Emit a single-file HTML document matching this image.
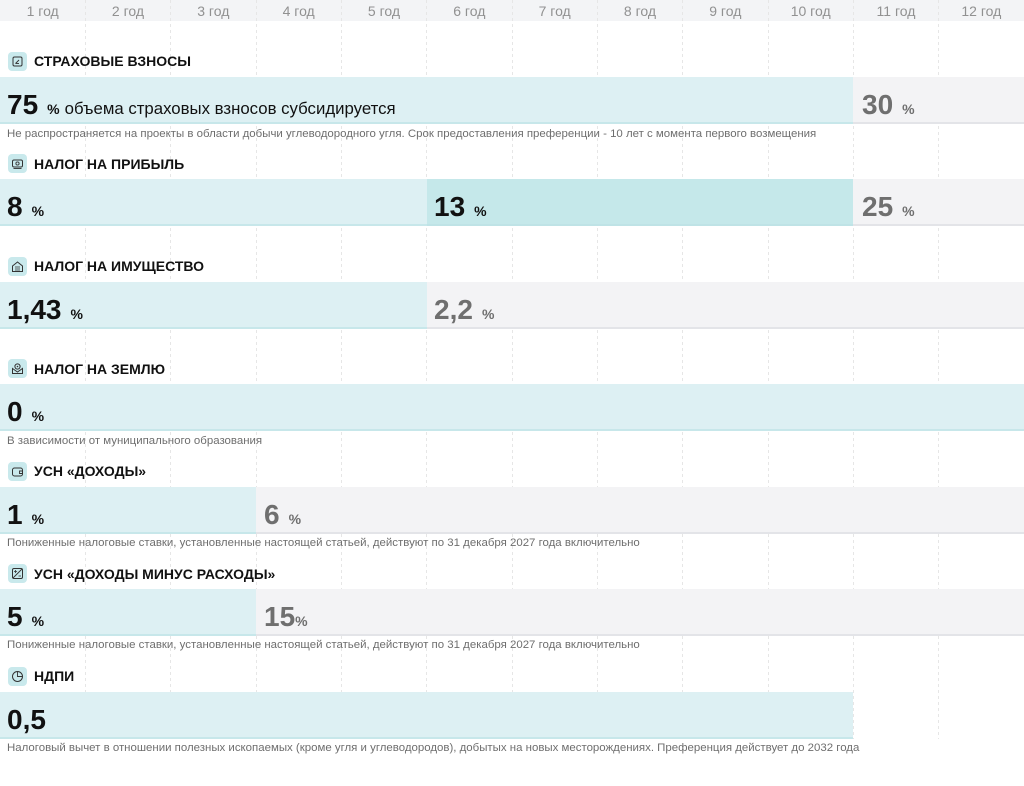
<!DOCTYPE html>
<html><head><meta charset="utf-8">
<style>
*{margin:0;padding:0;box-sizing:border-box}
html,body{width:1024px;height:786px;background:#fff;overflow:hidden}
body{position:relative;font-family:"Liberation Sans","Noto Sans CJK SC",sans-serif;color:#111}
.hdr{position:absolute;left:0;top:0;width:1024px;height:21px;background:#f3f4f6}
.yl{position:absolute;top:0;height:21px;line-height:22px;width:85.33px;text-align:center;font-size:14px;color:#919191}
.bar{position:absolute;height:47px;border-bottom:2px solid #c7e7ea;background:#ddf0f3}
.bar.d{background:#c5e8ea;border-bottom-color:#bfe3e6}
.bar.g{background:#f3f3f5;border-bottom-color:#e3e4e8}
.ic{position:absolute;left:8px;width:19px;height:19px;border-radius:4px;background:#c9e9ec}
.ic svg{position:absolute;left:0;top:0}
.tt{position:absolute;left:34px;font-size:14px;font-weight:bold;line-height:20px;color:#111;white-space:nowrap}
.num{position:absolute;font-size:28px;font-weight:bold;line-height:28px;white-space:nowrap;color:#111}
.num.g{color:#6f6f6f}
.num .p{font-size:14px;margin-left:9px}
.num .t{font-size:16.8px;font-weight:normal;margin-left:5px;color:#111}
.note{position:absolute;left:7px;font-size:11.45px;line-height:14px;color:#6e6e6e;white-space:nowrap}
</style></head><body>
<div class="hdr"></div>
<svg style="position:absolute;left:0;top:0" width="1024" height="786">
<g stroke="#e6e6e6" stroke-width="1" stroke-dasharray="3,3">
<line x1="85.5" y1="0" x2="85.5" y2="739"/>
<line x1="170.5" y1="0" x2="170.5" y2="739"/>
<line x1="256.5" y1="0" x2="256.5" y2="739"/>
<line x1="341.5" y1="0" x2="341.5" y2="739"/>
<line x1="426.5" y1="0" x2="426.5" y2="739"/>
<line x1="512.5" y1="0" x2="512.5" y2="739"/>
<line x1="597.5" y1="0" x2="597.5" y2="739"/>
<line x1="682.5" y1="0" x2="682.5" y2="739"/>
<line x1="768.5" y1="0" x2="768.5" y2="739"/>
<line x1="853.5" y1="0" x2="853.5" y2="739"/>
<line x1="938.5" y1="0" x2="938.5" y2="739"/>
</g>
</svg>
<div class="yl" style="left:0">1 год</div>
<div class="yl" style="left:85.33px">2 год</div>
<div class="yl" style="left:170.67px">3 год</div>
<div class="yl" style="left:256px">4 год</div>
<div class="yl" style="left:341.33px">5 год</div>
<div class="yl" style="left:426.67px">6 год</div>
<div class="yl" style="left:512px">7 год</div>
<div class="yl" style="left:597.33px">8 год</div>
<div class="yl" style="left:682.67px">9 год</div>
<div class="yl" style="left:768px">10 год</div>
<div class="yl" style="left:853.33px">11 год</div>
<div class="yl" style="left:938.67px">12 год</div>

<!-- Section 1 -->
<div class="ic" style="top:52px"><svg width="19" height="19"><rect x="5" y="5" width="9" height="9" rx="1.5" fill="none" stroke="#333" stroke-width="1"/><path d="M7.5 11.5 L11 8" stroke="#333" stroke-width="0.9"/><path d="M7.5 11.5 H11" stroke="#333" stroke-width="0.9"/></svg></div>
<div class="tt" style="top:51px">СТРАХОВЫЕ ВЗНОСЫ</div>
<div class="bar" style="top:77px;left:0;width:853px"></div>
<div class="bar g" style="top:77px;left:853px;width:171px"></div>
<div class="num" style="top:91px;left:7px">75<span class="p">%</span><span class="t">объема страховых взносов субсидируется</span></div>
<div class="num g" style="top:91px;left:862px">30<span class="p">%</span></div>
<div class="note" style="top:127px">Не распространяется на проекты в области добычи углеводородного угля. Срок предоставления преференции - 10 лет с момента первого возмещения</div>

<!-- Section 2 -->
<div class="ic" style="top:154px"><svg width="19" height="19"><rect x="4.5" y="6" width="10" height="7" rx="1.5" fill="none" stroke="#333" stroke-width="1"/><circle cx="9.5" cy="9.5" r="1.6" fill="none" stroke="#333" stroke-width="0.9"/><path d="M5.5 14.5 H13.5" stroke="#333" stroke-width="0.9"/></svg></div>
<div class="tt" style="top:153.5px">НАЛОГ НА ПРИБЫЛЬ</div>
<div class="bar" style="top:179px;left:0;width:427px"></div>
<div class="bar d" style="top:179px;left:427px;width:426px"></div>
<div class="bar g" style="top:179px;left:853px;width:171px"></div>
<div class="num" style="top:193px;left:7px">8<span class="p">%</span></div>
<div class="num" style="top:193px;left:434px">13<span class="p">%</span></div>
<div class="num g" style="top:193px;left:862px">25<span class="p">%</span></div>

<!-- Section 3 -->
<div class="ic" style="top:257px"><svg width="19" height="19"><path d="M4.5 9 L9.5 5 L14.5 9 V14.5 H4.5 Z" fill="none" stroke="#333" stroke-width="1"/><path d="M7 10 H12 M7 12 H12 M7 14 H12" stroke="#333" stroke-width="0.8"/></svg></div>
<div class="tt" style="top:256px">НАЛОГ НА ИМУЩЕСТВО</div>
<div class="bar" style="top:282px;left:0;width:427px"></div>
<div class="bar g" style="top:282px;left:427px;width:597px"></div>
<div class="num" style="top:296px;left:7px">1,43<span class="p">%</span></div>
<div class="num g" style="top:296px;left:434px">2,2<span class="p">%</span></div>

<!-- Section 4 -->
<div class="ic" style="top:359px"><svg width="19" height="19"><path d="M4.5 9.5 L9.5 13 L14.5 9.5 V14.5 H4.5 Z" fill="none" stroke="#333" stroke-width="1"/><circle cx="9.5" cy="7.5" r="2.6" fill="none" stroke="#333" stroke-width="1"/><circle cx="9.5" cy="7.5" r="0.8" fill="#333"/></svg></div>
<div class="tt" style="top:358.5px">НАЛОГ НА ЗЕМЛЮ</div>
<div class="bar" style="top:384px;left:0;width:1024px"></div>
<div class="num" style="top:398px;left:7px">0<span class="p">%</span></div>
<div class="note" style="top:434px">В зависимости от муниципального образования</div>

<!-- Section 5 -->
<div class="ic" style="top:462px"><svg width="19" height="19"><rect x="4.5" y="6" width="10" height="8" rx="2" fill="none" stroke="#333" stroke-width="1"/><path d="M14.5 9 H11.5 V11.5 H14.5" fill="none" stroke="#333" stroke-width="0.9"/></svg></div>
<div class="tt" style="top:461px">УСН «ДОХОДЫ»</div>
<div class="bar" style="top:487px;left:0;width:256px"></div>
<div class="bar g" style="top:487px;left:256px;width:768px"></div>
<div class="num" style="top:501px;left:7px">1<span class="p">%</span></div>
<div class="num g" style="top:501px;left:264px">6<span class="p">%</span></div>
<div class="note" style="top:536px">Пониженные налоговые ставки, установленные настоящей статьей, действуют по 31 декабря 2027 года включительно</div>

<!-- Section 6 -->
<div class="ic" style="top:564px"><svg width="19" height="19"><rect x="4.5" y="4.5" width="10" height="10" rx="1.5" fill="none" stroke="#333" stroke-width="1"/><path d="M5 14 L14 5" stroke="#333" stroke-width="0.9"/><path d="M6 7.5 H9 M7.5 6 V9 M10.5 12 H13" stroke="#333" stroke-width="0.8"/></svg></div>
<div class="tt" style="top:563.5px">УСН «ДОХОДЫ МИНУС РАСХОДЫ»</div>
<div class="bar" style="top:589px;left:0;width:256px"></div>
<div class="bar g" style="top:589px;left:256px;width:768px"></div>
<div class="num" style="top:603px;left:7px">5<span class="p">%</span></div>
<div class="num g" style="top:603px;left:264px">15<span class="p" style="margin-left:0">%</span></div>
<div class="note" style="top:638px">Пониженные налоговые ставки, установленные настоящей статьей, действуют по 31 декабря 2027 года включительно</div>

<!-- Section 7 -->
<div class="ic" style="top:667px"><svg width="19" height="19"><circle cx="9.5" cy="9.5" r="5" fill="none" stroke="#333" stroke-width="1"/><path d="M9.5 4.5 V9.5 H14.5" fill="none" stroke="#333" stroke-width="0.9"/></svg></div>
<div class="tt" style="top:666px">НДПИ</div>
<div class="bar" style="top:692px;left:0;width:853px"></div>
<div class="num" style="top:706px;left:7px">0,5</div>
<div class="note" style="top:741px">Налоговый вычет в отношении полезных ископаемых (кроме угля и углеводородов), добытых на новых месторождениях. Преференция действует до 2032 года</div>
</body></html>
